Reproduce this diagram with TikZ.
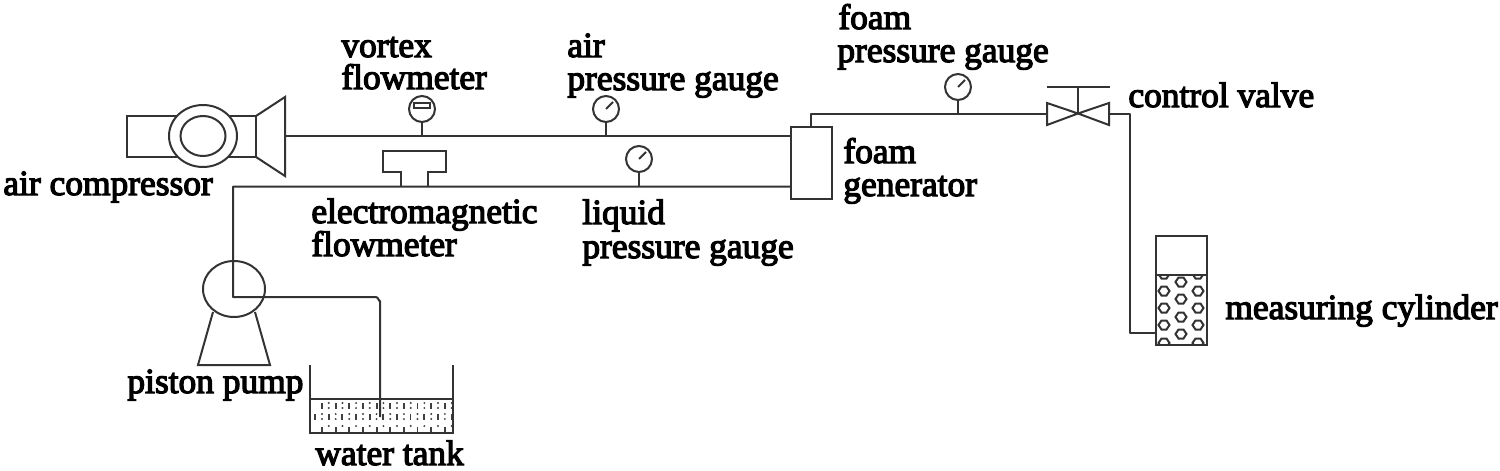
\documentclass[tikz,border=0pt]{standalone}
\usepackage{fontspec}
\usetikzlibrary{shapes.geometric}
\setmainfont[FakeBold=3.5]{Liberation Serif}
\tikzset{
  lbl/.style={anchor=base west,inner sep=0pt,font=\fontsize{17.7}{20}\selectfont,text=black},
  part/.style={draw=black!80,line width=1pt,inner sep=0pt,outer sep=0pt},
  gauge/.style={draw=black!80,line width=1pt,circle,minimum size=13pt,inner sep=0pt,outer sep=0pt},
  pipe/.style={draw=black!80,line width=1pt,line join=round},
  fine/.style={draw=black!80,line width=1pt},
}
\begin{document}
\begin{tikzpicture}[x=0.5pt,y=-0.5pt]
\useasboundingbox (0,0) rectangle (1500,471);
% air compressor
\coordinate (bodyTL) at (256,116);
\coordinate (bodyBL) at (256,157);
\draw[fine] (256,116) -- (127,116) -- (127,157) -- (256,157) -- cycle;
\node[part,ellipse,minimum width=34pt,minimum height=31pt,fill=white] (ringO) at (203,136) {};
\node[part,ellipse,minimum width=22.5pt,minimum height=20pt] (ringI) at (203,136) {};
\coordinate (hornT) at (285,97);
\coordinate (hornB) at (285,176);
\coordinate (hornM) at (285,136);
\draw[fine] (bodyTL) -- (hornT) -- (hornB) -- (bodyBL);
% foam generator
\node[part,minimum width=20.5pt,minimum height=36pt] (gen) at (811.5,163) {};
\coordinate (genA) at (791,136);
\coordinate (genL) at (791,186.5);
\coordinate (genT) at (811,127);
% air line
\draw[pipe] (hornM) -- (genA);
% vortex flowmeter
\node[gauge] (vortex) at (422,109) {};
\draw[fine] (414,103) rectangle (430,108);
\coordinate (vortexB) at (422,136);
\draw[fine] (vortex) -- (vortexB);
% air gauge
\node[gauge] (airg) at (606,109) {};
\coordinate (airB) at (606,136);
\draw[fine] (airg) -- (airB);
\draw[fine] (606,109) -- (613,102);
% liquid line
\coordinate (lineL) at (233,186.5);
\coordinate (pumpC) at (233,297);
\coordinate (pumpR) at (376,297);
\coordinate (tankIn) at (380,417);
\draw[pipe] (genL) -- (lineL) -- (pumpC) -- (pumpR) to[out=0,in=-90] (380,301) -- (tankIn);
% em flowmeter
\draw[fine] (401,186.5) -- (401,172) -- (383,172) -- (383,151) -- (446,151) -- (446,172) -- (428,172) -- (428,186.5);
% liquid gauge
\node[gauge] (liqg) at (639,159) {};
\coordinate (liqB) at (639,186.5);
\draw[fine] (liqg) -- (liqB);
\draw[fine] (639,159) -- (646,152);
% piston pump
\node[part,ellipse,minimum width=31pt,minimum height=28pt] (pump) at (234,289) {};
\draw[fine] (213,312) -- (198,365) -- (270,365) -- (255,312);
% tank
\begin{scope}
\clip (310,399) rectangle (453,433);
\foreach \i in {0,...,10}{
  \pgfmathsetmacro{\xa}{322+13.65*\i}
  \draw[black!75,line width=0.9pt] (\xa,403) -- (\xa,409);
  \fill[black!75] (\xa+6.8,403) circle (0.55pt) (\xa+6.8,408) circle (0.55pt);
  \draw[black!75,line width=0.9pt] (\xa-7,414) -- (\xa-7,420);
  \fill[black!75] (\xa,414) circle (0.55pt) (\xa,419) circle (0.55pt);
  \fill[black!75] (\xa+6.8,426) circle (0.55pt);
  \draw[black!75,line width=0.9pt] (\xa,427) -- (\xa,433);
}
\end{scope}
\draw[fine] (310,365) -- (310,433) -- (453,433) -- (453,365);
\draw[fine] (310,399) -- (453,399);
% foam outlet
\coordinate (vL) at (1047,113.5);
\coordinate (vR) at (1109,113.5);
\coordinate (vC) at (1078,113.5);
\coordinate (vH) at (1078,87);
\draw[pipe] (genT) -- (811,113.5) -- (vL);
\node[gauge] (foamg) at (958,87) {};
\coordinate (foamB) at (958,113.5);
\draw[fine] (foamg) -- (foamB);
\draw[fine] (958,87) -- (965,80);
% valve
\draw[fine,line join=miter] (vC) -- (1047,103) -- (1047,125) -- cycle;
\draw[fine,line join=miter] (vC) -- (1109,103) -- (1109,125) -- cycle;
\draw[fine] (vC) -- (vH);
\draw[fine] (1047,87) -- (1110,87);
% cylinder
\node[part,minimum width=25.5pt,minimum height=54.5pt] (cyl) at (1181.5,290.5) {};
\coordinate (cylIn) at (1156,333);
\draw[pipe] (vR) -- (1130,113.5) -- (1130,333) -- (cylIn);
\draw[fine] (1156,275) -- (1207,275);
\begin{scope}
\clip (1156,275) rectangle (1207,345);
\foreach \cx/\cy in {1164/291,1164/308,1164/325,1164/343,1164/274,1198/291,1198/308,1198/325,1198/343,1198/274,1181/282,1181/299,1181/317,1181/334}{
  \draw[fine] (\cx-5.5,\cy) -- (\cx-2.5,\cy-4.5) -- (\cx+2.5,\cy-4.5) -- (\cx+5.5,\cy) -- (\cx+2.5,\cy+4.5) -- (\cx-2.5,\cy+4.5) -- cycle;
}
\end{scope}
% labels
\node[lbl] (t1) at (341,57) {vortex};
\node[lbl] (t2) at (341,89) {flowmeter};
\node[lbl] (t3) at (567,57) {air};
\node[lbl] (t4) at (567,90) {pressure gauge};
\node[lbl] (t5) at (838,29) {foam};
\node[lbl] (t6) at (837,62) {pressure gauge};
\node[lbl] (t7) at (1128,107) {control valve};
\node[lbl] (t8) at (843,163) {foam};
\node[lbl] (t9) at (843,196) {generator};
\node[lbl] (t10) at (3,195) {air compressor};
\node[lbl] (t11) at (311,223) {electromagnetic};
\node[lbl] (t12) at (311,256) {flowmeter};
\node[lbl] (t13) at (582,224) {liquid};
\node[lbl] (t14) at (582,258) {pressure gauge};
\node[lbl] (t15) at (127,393) {piston pump};
\node[lbl] (t16) at (315,465) {water tank};
\node[lbl] (t17) at (1225,319) {measuring cylinder};
\end{tikzpicture}
\end{document}
